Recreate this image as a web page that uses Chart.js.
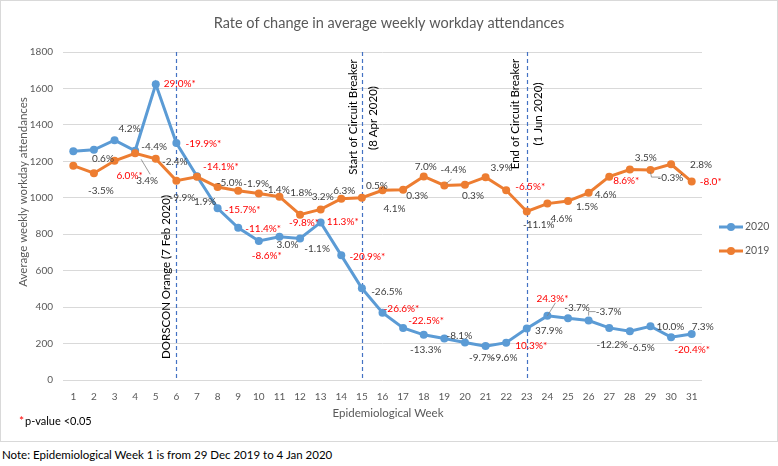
<!DOCTYPE html>
<html>
<head>
<meta charset="utf-8">
<title>Rate of change in average weekly workday attendances</title>
<script src="https://cdn.jsdelivr.net/npm/chart.js@4.4.0/dist/chart.umd.min.js"></script>
<style>
  html, body { margin: 0; padding: 0; background: #fff; }
  #box { position: absolute; left: 0; top: 0; width: 778px; height: 442px; }
  #note { position: absolute; left: 2px; top: 448px; font: 400 11.5px Lato, sans-serif; color: #000; white-space: nowrap; }
</style>
</head>
<body>
<div id="box"><canvas id="myChart" width="778" height="442"></canvas></div>
<div id="note">Note: Epidemiological Week 1 is from 29 Dec 2019 to 4 Jan 2020</div>
<script>
// axe des abscisses : semaines épidémiologiques
const weeks = ['1','2','3','4','5','6','7','8','9','10','11','12','13','14','15','16',
  '17','18','19','20','21','22','23','24','25','26','27','28','29','30','31'];

// moyenne hebdomadaire des présences
const att2020 = [1255, 1263, 1316, 1258, 1623, 1300, 1118, 942, 835, 763, 786, 777, 865, 684, 503, 369,
  286, 248, 228, 206, 186, 205, 283, 352, 339, 326, 286, 268, 295, 235, 252];
const att2019 = [1176, 1135, 1203, 1244, 1214, 1094, 1115, 1059, 1039, 1024, 1006, 907, 936, 995, 1000, 1041,
  1044, 1117, 1068, 1071, 1113, 1041, 925, 968, 982, 1027, 1116, 1155, 1152, 1184, 1089];

// taux de variation (étoile = p < 0.05)
const pct2020 = ['', '0.6%', '4.2%', '-4.4%', '29.0%*', '-19.9%*', '-14.1%*', '-15.7%*', '-11.4%*', '-8.6%*',
  '3.0%', '-1.1%', '11.3%*', '-20.9%*', '-26.5%', '-26.6%*', '-22.5%*', '-13.3%', '-8.1%', '-9.7%', '-9.6%',
  '10.3%*', '37.9%', '24.3%*', '-3.7%', '-3.7%', '-12.2%', '-6.5%', '10.0%', '-20.4%*', '7.3%'];
const pct2019 = ['', '-3.5%', '6.0%*', '3.4%', '-2.4%', '-9.9%', '1.9%', '-5.0%', '-1.9%', '-1.4%',
  '-1.8%', '-9.8%*', '3.2%', '6.3%', '0.5%', '4.1%', '0.3%', '7.0%', '-4.4%', '0.3%', '3.9%',
  '-6.5%*', '-11.1%', '4.6%', '1.5%', '4.6%', '8.6%*', '3.5%', '-0.3%', '2.8%', '-8.0*'];

const yTicks = [0, 200, 400, 600, 800, 1000, 1200, 1400, 1600, 1800];

const eventWeeks = ['6', '15', '23'];
const eventText = [
  ['DORSCON Orange (7 Feb 2020)'],
  ['Start of Circuit Breaker', '(8 Apr 2020)'],
  ['End of Circuit Breaker', '(1 Jun 2020)']
];

const BLUE = '#5b9bd5';
const ORANGE = '#ed7d31';
const GREY = '#595959';
const FONT = 'Lato, "Open Sans", sans-serif';

// placement des étiquettes (décalage par rapport au point, en px)
const labelShift2020 = [null, [9,9], [15,-11], [19,-4], [24,0], [27,1], [24,-9], [25,1], [25,1], [8,15], [8,8],
  [17,10], [22,-1], [26,1], [25,3], [19,-4], [23,-7], [2,15], [15,-3], [17,15], [19,12], [25,3], [22,2],
  [5,-17], [9,-10], [20,-9], [3,17], [12,17], [20,1], [21,13], [11,-7]];
const labelShift2019 = [null, [7,18], [15,15], [12,27], [19,3], [6,17], [8,25], [12,-4], [18,-7], [18,-4],
  [20,-4], [4,8], [2,-13], [3,-8], [15,-12], [12,18], [14,6], [2,-10], [9,-16], [8,11], [16,-9], [24,-4],
  [12,13], [14,15], [19,6], [17,2], [17,4], [16,-12], [20,8], [30,1], [19,0]];
// lignes de rappel : [dataset, index, points relatifs]
const leaders = [
  [1, 3, [[6,6],[15,21]]],
  [1, 18, [[2,-2],[7,-6]]],
  [1, 28, [[0,2],[1,7],[10,7]]],
  [0, 23, [[0,0],[8,-13]]],
  [0, 25, [[0,-5],[0,-9],[7,-9]]]
];
const eventLayout = [
  [[-10, 277]],
  [[-9, 117], [11, 118]],
  [[-11, 114], [12, 114]]
];

const decor = {
  id: 'decor',
  beforeDatasetsDraw(chart) {
    const {ctx, chartArea, scales} = chart;
    ctx.save();
    ctx.strokeStyle = '#4472c4';
    ctx.lineWidth = 1.2;
    ctx.setLineDash([4, 3]);
    eventWeeks.forEach(w => {
      const x = Math.round(scales.x.getPixelForValue(weeks.indexOf(w))) + 0.5;
      ctx.beginPath();
      ctx.moveTo(x, chartArea.top);
      ctx.lineTo(x, chartArea.bottom);
      ctx.stroke();
    });
    ctx.restore();
  },
  afterDraw(chart) {
    const {ctx, scales} = chart;
    ctx.save();
    // cadre
    ctx.strokeStyle = '#d9d9d9';
    ctx.lineWidth = 1;
    ctx.strokeRect(0.5, 0.5, 777, 441);

    // titre
    ctx.fillStyle = GREY;
    ctx.textAlign = 'center';
    ctx.textBaseline = 'middle';
    ctx.font = '14.5px ' + FONT;
    ctx.fillText('Rate of change in average weekly workday attendances', 389, 23);

    ctx.font = '11.5px ' + FONT;
    ctx.fillText('Epidemiological Week', 388, 413);
    ctx.save();
    ctx.translate(23, 192);
    ctx.rotate(-Math.PI / 2);
    ctx.fillText('Average weekly workday attendances', 0, 0);
    ctx.restore();

    // textes des évènements
    ctx.fillStyle = '#000';
    ctx.font = '11.5px ' + FONT;
    eventWeeks.forEach((w, i) => {
      const x = scales.x.getPixelForValue(weeks.indexOf(w));
      eventText[i].forEach((t, j) => {
        const [dx, y] = eventLayout[i][j];
        ctx.save();
        ctx.translate(x + dx, y);
        ctx.rotate(-Math.PI / 2);
        ctx.fillText(t, 0, 0);
        ctx.restore();
      });
    });

    // lignes de rappel
    ctx.strokeStyle = '#808080';
    ctx.lineWidth = 0.8;
    leaders.forEach(([d, i, pts]) => {
      const p = chart.getDatasetMeta(d).data[i];
      ctx.beginPath();
      pts.forEach(([dx, dy], k) => {
        if (k === 0) ctx.moveTo(p.x + dx, p.y + dy);
        else ctx.lineTo(p.x + dx, p.y + dy);
      });
      ctx.stroke();
    });

    // étiquettes de données
    ctx.font = '10px ' + FONT;
    [[pct2020, labelShift2020], [pct2019, labelShift2019]].forEach(([labels, shift], d) => {
      const meta = chart.getDatasetMeta(d);
      labels.forEach((t, i) => {
        if (!t) return;
        const p = meta.data[i];
        ctx.fillStyle = t.endsWith('*') ? '#ff0000' : '#404040';
        ctx.fillText(t, p.x + shift[i][0], p.y + shift[i][1]);
      });
    });

    // légende
    [['2020', BLUE, 227], ['2019', ORANGE, 251]].forEach(([name, col, y]) => {
      ctx.strokeStyle = col;
      ctx.lineWidth = 3;
      ctx.beginPath();
      ctx.moveTo(719, y);
      ctx.lineTo(743, y);
      ctx.stroke();
      ctx.fillStyle = col;
      ctx.beginPath();
      ctx.arc(731, y, 4, 0, Math.PI * 2);
      ctx.fill();
      ctx.fillStyle = GREY;
      ctx.textAlign = 'left';
      ctx.font = '10.5px ' + FONT;
      ctx.fillText(name, 745, y);
    });

    // note p-value
    ctx.textAlign = 'left';
    ctx.font = '12px ' + FONT;
    ctx.fillStyle = '#ff0000';
    ctx.fillText('*', 19, 421);
    ctx.fillStyle = '#000';
    ctx.font = '11px ' + FONT;
    ctx.fillText('p-value <0.05', 25, 421);
    ctx.restore();
  }
};

new Chart('myChart', {
  type: 'line',
  data: {
    labels: weeks,
    datasets: [{
      label: '2020',
      data: att2020,
      borderColor: BLUE,
      backgroundColor: BLUE,
      pointBackgroundColor: BLUE,
      borderWidth: 3,
      pointRadius: 4,
      pointBorderWidth: 0,
      order: 1
    }, {
      label: '2019',
      data: att2019,
      borderColor: ORANGE,
      backgroundColor: ORANGE,
      pointBackgroundColor: ORANGE,
      borderWidth: 3,
      pointRadius: 4,
      pointBorderWidth: 0,
      order: 0
    }]
  },
  options: {
    responsive: false,
    animation: false,
    layout: { padding: { top: 52, right: 76, left: 0, bottom: 0 } },
    plugins: { legend: { display: false }, tooltip: { enabled: false } },
    scales: {
      x: {
        offset: true,
        grid: { display: false, drawTicks: false },
        border: { display: false },
        ticks: { color: GREY, font: { family: FONT, size: 10 }, padding: 11, maxRotation: 0, autoSkip: false },
        afterFit: s => { s.height = 62; }
      },
      y: {
        min: 0,
        max: 1800,
        afterBuildTicks: s => { s.ticks = yTicks.map(v => ({ value: v })); },
        grid: { color: '#d9d9d9', drawTicks: false },
        border: { display: false },
        ticks: { color: GREY, font: { family: FONT, size: 10 }, padding: 10, callback: v => String(v) },
        afterFit: s => { s.width = 63; }
      }
    }
  },
  plugins: [decor]
});
</script>
</body>
</html>
